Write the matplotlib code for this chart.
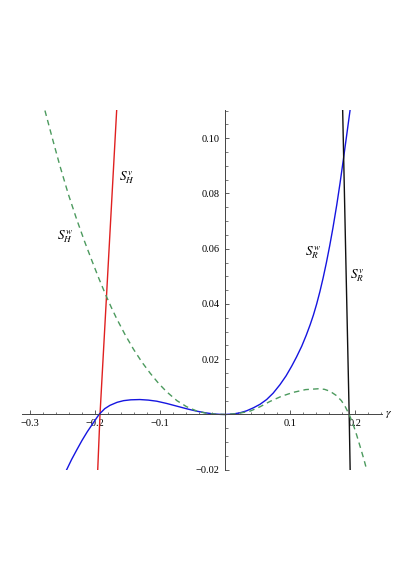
import matplotlib
matplotlib.use("Agg")
import matplotlib.pyplot as plt
from matplotlib.ticker import FixedLocator, MultipleLocator

plt.rcParams['mathtext.fontset'] = 'stix'
plt.rcParams['font.family'] = ['Liberation Serif', 'DejaVu Serif']

# blue curve (S^w)
blue_x = [-0.2436, -0.236, -0.228, -0.220, -0.212, -0.204, -0.1938, -0.185,
          -0.177, -0.166, -0.156, -0.145, -0.131, -0.118, -0.105, -0.090,
          -0.074, -0.058, -0.0436, -0.030, -0.018, -0.008, 0.0,
          0.012, 0.023, 0.033, 0.0436, 0.054, 0.064, 0.074, 0.0846, 0.094,
          0.1026, 0.110, 0.118, 0.125, 0.131, 0.136, 0.141, 0.146, 0.151,
          0.156, 0.161, 0.166, 0.172, 0.177, 0.182, 0.187, 0.1923]
blue_y = [-0.0200, -0.0163, -0.0128, -0.0094, -0.0063, -0.0035, 0.0, 0.0021,
          0.0033, 0.0044, 0.0050, 0.0053, 0.0054, 0.0052, 0.0048, 0.0040,
          0.0030, 0.0020, 0.0012, 0.0006, 0.0002, 0.00004, 0.0,
          0.00015, 0.0006, 0.0013, 0.0024, 0.0037, 0.0054, 0.0077, 0.0108, 0.0140,
          0.0175, 0.0208, 0.0247, 0.0287, 0.0325, 0.0360, 0.0400, 0.0445, 0.0495,
          0.0550, 0.0610, 0.0675, 0.0760, 0.0838, 0.0922, 0.1008, 0.1100]

# green dashed curve
green_x = [-0.277, -0.266, -0.254, -0.241, -0.228, -0.216, -0.205, -0.194,
           -0.183, -0.175, -0.1667, -0.154, -0.141, -0.128, -0.115, -0.102,
           -0.0897, -0.074, -0.059, -0.043, -0.028, -0.014, 0.0,
           0.019, 0.0385, 0.054, 0.069, 0.087, 0.105, 0.124, 0.1436, 0.153,
           0.1615, 0.171, 0.179, 0.185, 0.191, 0.197, 0.2026, 0.2077, 0.213, 0.218]
green_y = [0.1100, 0.1003, 0.0900, 0.0797, 0.0705, 0.0626, 0.0558, 0.0492,
           0.0430, 0.0388, 0.0347, 0.0290, 0.0237, 0.0190, 0.0149, 0.0112,
           0.0082, 0.0050, 0.0028, 0.0012, 0.0004, 0.0001, 0.0,
           0.0003, 0.0012, 0.0028, 0.0047, 0.0066, 0.0080, 0.0090, 0.0093, 0.0091,
           0.0084, 0.0069, 0.0050, 0.0028, 0.0, -0.0035, -0.0075, -0.0115, -0.0157, -0.0200]

# red line (S_H^v)
red_x = [-0.1958, -0.1923, -0.1825, -0.1725, -0.1667]
red_y = [-0.0200, 0.0, 0.0420, 0.0850, 0.1100]

# black line (S_R^v)
black_x = [0.1810, 0.1855, 0.1910, 0.1925]
black_y = [0.1100, 0.0600, 0.0, -0.0200]

x_major = [-0.3, -0.2, -0.1, 0.1, 0.2]
y_major = [-0.02, 0.02, 0.04, 0.06, 0.08, 0.10]

fig = plt.figure(figsize=(4.16, 5.88), dpi=100)
ax = fig.add_axes([22 / 416, 118 / 588, 360 / 416, 360 / 588])

ax.plot(red_x, red_y, color='#e02020', lw=1.0)
ax.plot(blue_x, blue_y, color='#1515e0', lw=1.0)
ax.plot(black_x, black_y, color='#111111', lw=1.0)
ax.plot(green_x, green_y, color='#4c9a5e', lw=1.0, ls=(0, (4, 3)))

ax.set_xlim(-0.3123, 0.2415)
ax.set_ylim(-0.0201, 0.1102)

for s in ['top', 'right']:
    ax.spines[s].set_visible(False)
for s in ['left', 'bottom']:
    ax.spines[s].set_position(('data', 0))
    ax.spines[s].set_color('#444444')
    ax.spines[s].set_linewidth(0.7)

ax.xaxis.set_major_locator(FixedLocator(x_major))
ax.xaxis.set_minor_locator(MultipleLocator(0.02))
ax.yaxis.set_major_locator(FixedLocator(y_major))
ax.yaxis.set_minor_locator(MultipleLocator(0.005))
ax.set_xticklabels([f'{v:.1f}'.replace('-', '\u2212') for v in x_major])
ax.set_yticklabels([f'{v:.2f}'.replace('-', '\u2212') for v in y_major])

ax.tick_params(axis='both', which='major', direction='in', length=3,
               width=0.6, color='#444444', labelsize=7.5)
ax.tick_params(axis='both', which='minor', direction='in', length=1.8,
               width=0.5, color='#444444')
ax.tick_params(axis='x', pad=3)
ax.tick_params(axis='y', pad=4)

ax.text(0.2520, 0.0, r'$\gamma$', fontsize=8.5, ha='center', va='center',
        clip_on=False)

lab = dict(fontsize=9.5, ha='center', va='center')
ax.text(-0.1508, 0.0857, r'$S_H^v$', **lab)
ax.text(-0.2460, 0.0643, r'$S_H^w$', **lab)
ax.text(0.1354, 0.0585, r'$S_R^w$', **lab)
ax.text(0.2030, 0.0502, r'$S_R^v$', **lab)

fig.savefig('out.png', dpi=100)
